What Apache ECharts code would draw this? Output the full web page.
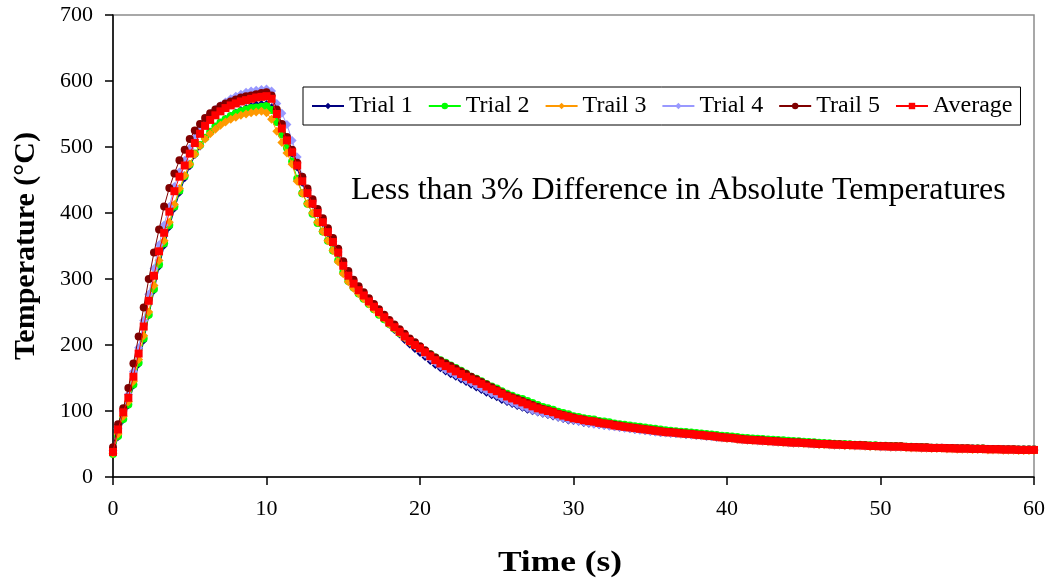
<!DOCTYPE html>
<html>
<head>
<meta charset="utf-8">
<script src="https://cdn.jsdelivr.net/npm/echarts@6/dist/echarts.min.js"></script>
<style>html,body{margin:0;padding:0;background:#fff;}#c{width:1051px;height:582px;}</style>
</head>
<body>
<div id="c"></div>
<script>
const times = [
0,0.33,0.67,1,1.33,1.67,2,2.33,2.67,3,
3.33,3.67,4,4.33,4.67,5,5.33,5.67,6,6.33,
6.67,7,7.33,7.67,8,8.33,8.67,9,9.33,9.67,
10,10.33,10.67,11,11.33,11.67,12,12.33,12.67,13,
13.33,13.67,14,14.33,14.67,15,15.33,15.67,16,16.33,
16.67,17,17.33,17.67,18,18.33,18.67,19,19.33,19.67,
20,20.33,20.67,21,21.33,21.67,22,22.33,22.67,23,
23.33,23.67,24,24.33,24.67,25,25.33,25.67,26,26.33,
26.67,27,27.33,27.67,28,28.33,28.67,29,29.33,29.67,
30,30.33,30.67,31,31.33,31.67,32,32.33,32.67,33,
33.33,33.67,34,34.33,34.67,35,35.33,35.67,36,36.33,
36.67,37,37.33,37.67,38,38.33,38.67,39,39.33,39.67,
40,40.33,40.67,41,41.33,41.67,42,42.33,42.67,43,
43.33,43.67,44,44.33,44.67,45,45.33,45.67,46,46.33,
46.67,47,47.33,47.67,48,48.33,48.67,49,49.33,49.67,
50,50.33,50.67,51,51.33,51.67,52,52.33,52.67,53,
53.33,53.67,54,54.33,54.67,55,55.33,55.67,56,56.33,
56.67,57,57.33,57.67,58,58.33,58.67,59,59.33,59.67,
60];

const trial1 = [
36,60,86,108,138,170,206,244,282,318,
350,378,406,430,452,470,487,500,512,522,
530,537,543,548,553,557,560,563,565,566,
566,561,545,526,507,489,468,445,428,412,
398,384,368,353,337,318,303,291,281,272,
263,255,247,238,230,222,215,207,200,193,
187,181,175,169,164,159,155,151,147,143,
139,135,131,127,123,120,116,113,110,107,
104,101,99,97,95,93,91,89,87,85,
84,83,81,80,79,78,77,76,75,74,
73,72,71,70,69,68,67,66,65.5,65,
64.5,64,63,62.5,62,61,60.5,60,59,58.5,
58,57.5,57,56,55.5,55,54.5,54,53.5,53,
52.5,52,51.5,51,51,50.5,50,49.5,49,49,
48.5,48,48,47.5,47.5,47,47,46.5,46,46,
45.5,45.5,45,45,45,44.5,44,44,43.5,43.5,
43,43,43,42.5,42.5,42,42,42,41.5,41.5,
41.5,41,41,41,40.5,40.5,40.5,40,40,40,
40];

const trial2 = [
35,62,88,110,140,173,210,246,285,322,
354,382,410,434,456,474,490,503,514,523,
531,537,542,547,551,554,557,559,560,561,
562,556,538,519,499,478,452,430,414,399,
385,372,358,343,328,310,297,287,278,270,
262,254,246,239,232,225,218,212,206,201,
196,191,186,181,177,173,169,165,161,157,
152,149,145,141,137,134,130,126,123,120,
118,115,112,109,106,104,102,99,97,95,
92,91,89,88,87,85,84,83,81,80,
79,78,77,76,75,74,73,72,71,70,
69.5,68.5,68,67.5,66.5,66,65,64.5,63.5,62.5,
62,61.5,60.5,59.5,59,58.5,58,57.5,57,56.5,
56,55.5,55,54.5,54,53.5,53,52.5,52,51.5,
51,50.5,50,50,49.5,49,49,48.5,48,48,
47.5,47.5,47,47,46.5,46,46,45.5,45.5,45,
44.5,44.5,44,44,44,43.5,43.5,43.5,43,43,
43,42.5,42.5,42.5,42,42,42,41.5,41.5,41.5,
41.5];

const trail3 = [
36,65,92,114,145,178,214,250,290,328,
358,386,413,437,457,474,489,502,512,520,
527,533,538,542,545,548,550,552,553,554,
552,542,524,507,491,474,448,430,414,400,
386,372,358,343,326,308,296,286,278,270,
262,254,247,240,232,225,218,211,204,198,
193,187,181,176,171,167,163,159,155,151,
147,144,140,136,132,129,125,121,118,115,
112,109,106,103,101,99,97,94,92,90,
88,87,85,84,83,81,80,79,77,76,
75,74,73,72,71,70,69,68,67,66.5,
66,65,64.5,64,63,62.5,61.5,61,60,59,
58.5,58,57,56,55.5,55,54.5,54,53.5,53,
52.5,52,51.5,51,51,50.5,50,49.5,49,49,
48.5,48,48,47.5,47.5,47,47,46.5,46,46,
45.5,45.5,45,45,45,44.5,44,44,43.5,43.5,
43,43,43,42.5,42.5,42,42,42,41.5,41.5,
41.5,41,41,41,40.5,40.5,40.5,40,40,40,
40];

const trial4 = [
40,74,100,125,160,196,237,277,316,352,
382,410,440,462,480,498,514,528,540,550,
557,563,568,573,577,580,583,585,586,587,
588,585,566,551,534,510,485,455,434,417,
402,388,372,357,341,321,306,294,284,276,
267,259,251,243,235,228,221,213,206,199,
193,186,180,174,168,163,159,155,151,147,
143,139,135,131,127,124,120,116,113,110,
107,104,101,99,97,95,93,91,89,87,
86,84,83,82,80,79,78,77,76,75,
74,73,72,71,70,69,68,67.5,67,66,
65.5,65,64,63.5,63,62.5,61.5,61,60,59.5,
59,58.5,57.5,56.5,56,55.5,55,54.5,54,53.5,
53,52.5,52,51.5,51.5,51,50.5,50,49.5,49.5,
49,48.5,48.5,48,48,47.5,47.5,47,46.5,46.5,
46,46,45.5,45.5,45.5,45,45,45,44.5,44.5,
44,44,44,43.5,43.5,43.5,43,43,43,42.5,
42.5,42.5,42,42,42,42,41.5,41.5,41.5,41.5,
41.5];

const trail5 = [
45,80,104,135,172,213,257,300,340,375,
410,438,460,480,496,512,525,535,544,551,
557,562,566,569,572,575,577,578,580,582,
583,578,557,535,515,496,476,455,437,421,
406,392,377,362,346,327,312,299,289,280,
271,262,254,246,238,231,224,217,210,204,
198,192,186,181,176,172,168,164,160,156,
152,148,144,140,136,132,128,124,121,118,
115,112,109,106,103,101,99,96,94,92,
90,88,87,85,84,83,81,80,79,78,
76.5,75.5,74.5,73.5,72.5,71.5,70.5,69.5,68.5,68,
67.5,66.5,66,65.5,64.5,64,63,62.5,61.5,60.5,
60,59.5,58.5,57.5,57,56.5,56,55.5,55,54.5,
54,53.5,53,52.5,52.5,52,51.5,51,50.5,50.5,
50,49.5,49.5,49,49,48.5,48.5,48,47.5,47.5,
47,47,46.5,46.5,46.5,46,45.5,45.5,45,45,
44.5,44.5,44.5,44,44,43.5,43.5,43.5,43,43,
43,42.5,42.5,42.5,42,42,42,41.5,41.5,41.5,
41.5];

const average = [
38,72,98,120,152,187,228,267,305,342,
370,402,433,455,472,490,506,520,532,541,
548,554,559,563,566,569,571,573,575,576,
577,573,550,528,510,492,472,448,430,414,
400,386,371,356,340,320,305,293,283,275,
266,258,250,242,234,227,220,213,206,200,
195,189,183,177,172,168,164,160,156,152,
148,145,141,137,133,130,126,122,119,116,
113,110,107,104,102,100,98,95,93,91,
89,88,86,85,84,82,81,80,78,77,
76,75,74,73,72,71,70,69,68,67.5,
67,66,65.5,65,64,63.5,62.5,62,61,60,
59.5,59,58,57,56.5,56,55.5,55,54.5,54,
53.5,53,52.5,52,52,51.5,51,50.5,50,50,
49.5,49,49,48.5,48.5,48,48,47.5,47,47,
46.5,46.5,46,46,46,45.5,45,45,44.5,44.5,
44,44,44,43.5,43.5,43,43,43,42.5,42.5,
42.5,42,42,42,41.5,41.5,41.5,41,41,41,
41];

const seriesNames = ['Trial 1','Trial 2','Trail 3','Trial 4','Trail 5','Average'];
const seriesValues = [trial1, trial2, trail3, trial4, trail5, average];
const seriesColors = ['#000080','#00FF00','#FF9900','#9999FF','#800000','#FF0000'];
const seriesSymbols = ['diamond','circle','diamond','diamond','circle','rect'];
const symbolSizes = [7,8,9,9,8,8];
const annotation = 'Less than 3% Difference in Absolute Temperatures';
const xTitle = 'Time (s)';
const yTitle = 'Temperature (°C)';

const chart = echarts.init(document.getElementById('c'), null, {renderer:'canvas'});
const font = 'Liberation Serif';
const series = seriesNames.map((n,k)=>({
  name:n, type:'line',
  data: times.map((t,i)=>[t, seriesValues[k][i]]),
  symbol: seriesSymbols[k], symbolSize: symbolSizes[k], showSymbol:true,
  itemStyle:{color:seriesColors[k]},
  lineStyle:{color:seriesColors[k], width:1},
  z: 2+k
}));
chart.setOption({
  animation:false,
  backgroundColor:'#fff',
  grid:{left:113, right:17, top:15, bottom:105, show:true, borderColor:'#8c8c8c', borderWidth:1.5, backgroundColor:'transparent'},
  legend:{
    left:303, top:87, orient:'horizontal',
    padding:[7,8,7,8], itemGap:15, itemWidth:32, itemHeight:8,
    borderColor:'#000', borderWidth:1, backgroundColor:'#fff',
    textStyle:{fontFamily:font, fontSize:24, color:'#000'},
    data: seriesNames.map(n=>({name:n, itemStyle:{}}))
  },
  xAxis:{
    type:'value', min:0, max:60, interval:10,
    axisLine:{show:true, onZero:false, lineStyle:{color:'#000', width:1.5}},
    axisTick:{show:true, inside:false, length:8, lineStyle:{color:'#000', width:1.5}},
    axisLabel:{fontFamily:font, fontSize:22, color:'#000', margin:21},
    splitLine:{show:false}
  },
  yAxis:{
    type:'value', min:0, max:700, interval:100,
    name:yTitle, nameLocation:'middle', nameGap:72,
    nameTextStyle:{fontFamily:font, fontSize:30, fontWeight:'bold', color:'#000'},
    axisLine:{show:true, onZero:false, lineStyle:{color:'#000', width:1.5}},
    axisTick:{show:true, inside:false, length:8, lineStyle:{color:'#000', width:1.5}},
    axisLabel:{fontFamily:font, fontSize:22, color:'#000', margin:20},
    splitLine:{show:false}
  },
  graphic:[{
    type:'text', left:351, top:175, z:100,
    style:{text:annotation, font:'32px "Liberation Serif"', fill:'#000'}
  },{
    type:'text', x:560, y:548, scaleX:1.18, z:100,
    style:{text:xTitle, font:'bold 30px "Liberation Serif"', fill:'#000', textAlign:'center', textVerticalAlign:'top'}
  }],
  series: series
});
</script>
</body>
</html>
